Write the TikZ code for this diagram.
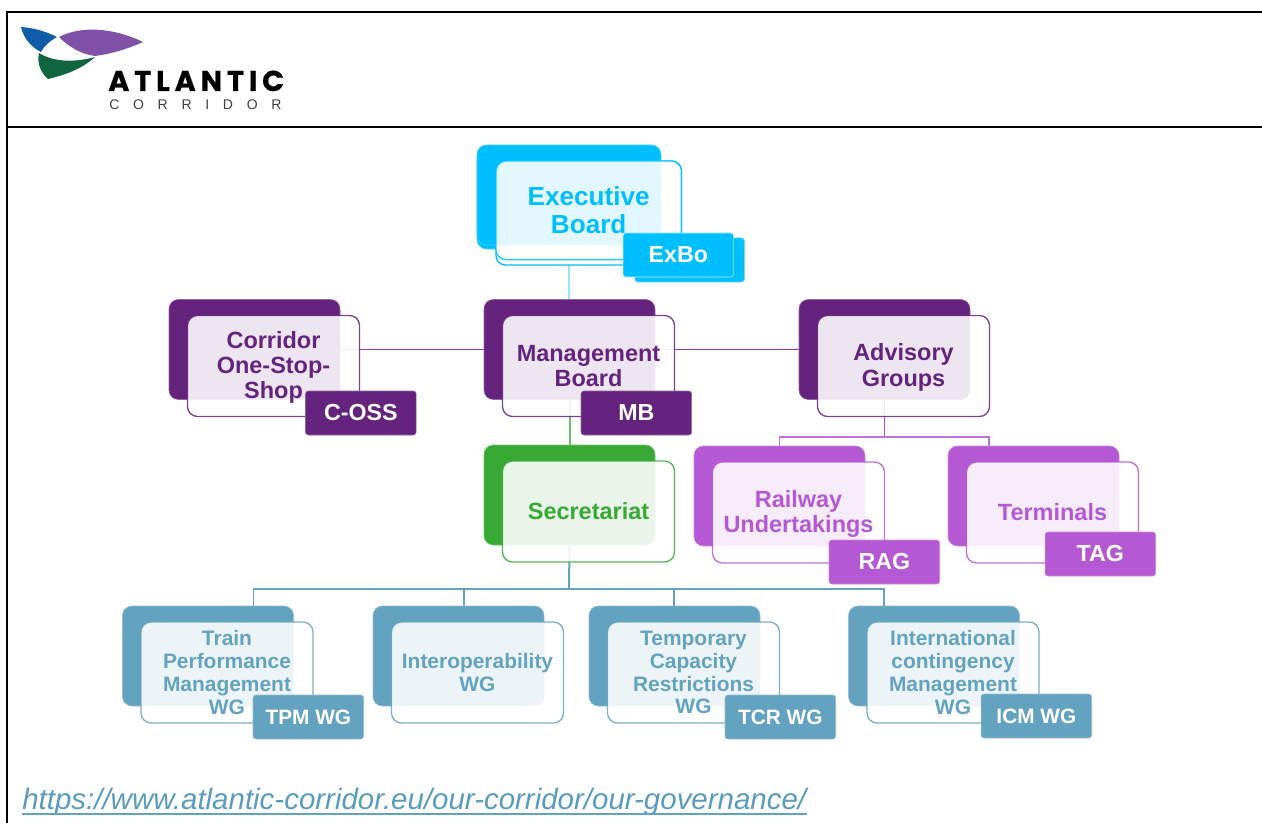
\documentclass[tikz,border=0pt]{standalone}
\usepackage{fontspec}
\setmainfont{Liberation Sans}
\newfontfamily\logofont[LetterSpace=17,FakeBold=0.5]{Poppins}
\newfontfamily\logothin[LetterSpace=98]{Liberation Sans}
\usetikzlibrary{backgrounds}
\definecolor{cExec}{HTML}{00BFFF}
\definecolor{cPurple}{HTML}{64237C}
\definecolor{cGreen}{HTML}{38A935}
\definecolor{cLilac}{HTML}{B459D3}
\definecolor{cBlue}{HTML}{64A3BF}
\definecolor{cLink}{HTML}{5A9CBE}
\definecolor{cLogoBlue}{HTML}{0F5CA8}
\definecolor{cLogoPurple}{HTML}{7F52A8}
\definecolor{cLogoGreen}{HTML}{12663F}
\tikzset{
  backbox/.style={fill=#1,draw=#1!70!white,line width=.4pt,rounded corners=7pt,inner sep=0pt,outer sep=0pt,anchor=north west,minimum width=128.25pt,minimum height=75pt},
  frontbox/.style={fill=white,fill opacity=.89,text opacity=1,draw=#1,draw opacity=.85,line width=1pt,rounded corners=7.5pt,inner sep=0pt,outer sep=0pt,anchor=north west,minimum width=129pt,minimum height=75.75pt,align=center,text=#1,font=\fontsize{17.6}{19}\selectfont\bfseries},
  tagbox/.style={fill=#1,draw=#1!70!white,line width=.4pt,rounded corners=2.2pt,inner sep=0pt,outer sep=0pt,anchor=north west,minimum width=83pt,minimum height=33pt,text=white,font=\fontsize{17.4}{19}\selectfont\bfseries},
  smalltext/.style={font=\fontsize{15.7}{17.1}\selectfont\bfseries},
  smalltag/.style={font=\fontsize{15.6}{17}\selectfont\bfseries},
  bigtext/.style={font=\fontsize{19.6}{21}\selectfont\bfseries},
  frameline/.style={line width=1.5pt,black}
}
\newcommand{\orgunit}[6][]{%
  \node[backbox=#5] (#2back) at (#3,#4) {};
  \node[frontbox=#5,#1] (#2front) at (#3+18.5,#4+16) {#6};
}
\begin{document}
\begin{tikzpicture}[x=.75pt,y=-.75pt]
\useasboundingbox (0,0) rectangle (1262,823);
% frame
\coordinate (frTL) at (7,12);
\coordinate (frTR) at (1262,12);
\coordinate (frML) at (7,127);
\coordinate (frMR) at (1262,127);
\coordinate (frBL) at (7,823);
\draw[frameline] (frTR) -- (frTL) -- (frBL);
\draw[frameline] (frML) -- (frMR);
% logo
\fill[cLogoBlue] (21,27) .. controls (35,28) and (47,32) .. (57,37) .. controls (50,41) and (44,46) .. (41,52) .. controls (33,48) and (24,40) .. (21,27) -- cycle;
\fill[cLogoPurple] (59,37) .. controls (80,26) and (112,27) .. (143,42) .. controls (125,50) and (110,54) .. (95,56) .. controls (80,54) and (68,46) .. (59,37) -- cycle;
\fill[cLogoGreen] (39,53) .. controls (55,63) and (77,62) .. (95,57) .. controls (82,69) and (65,75) .. (48,79) .. controls (40,72) and (37,63) .. (39,53) -- cycle;
\node[anchor=base west,inner sep=0pt] (logoname) at (108,91) {\logofont\bfseries\fontsize{21.5}{20}\selectfont ATLANTIC};
\node[anchor=base west,inner sep=0pt] (logosub) at (109,110) {\logothin\fontsize{10.5}{10}\selectfont\color{black!75}CORRIDOR};
% executive board with its shadow layers
\node[backbox=cExec] (exshadow) at (477,149) {};
\node[backbox=cExec,fill=white,draw=cExec,line width=1pt,minimum width=139pt,minimum height=78pt] (exfrontshadow) at (496,161) {};
\node[backbox=cExec,minimum width=138pt] (exback) at (477,145) {};
\node[frontbox=cExec,bigtext,minimum width=139pt,minimum height=74pt] (exfront) at (496,161) {Executive\\Board};
\node[tagbox=cExec,minimum width=82pt] (extagshadow) at (635,238) {};
\node[tagbox=cExec,draw=white!70!cExec] (extag) at (623,233) {ExBo};
% middle rows
\orgunit{coss}{169}{299.5}{cPurple}{\rule{0pt}{15pt}Corridor\\One-Stop-\\Shop}
\orgunit{mb}{484}{299.5}{cPurple}{Management\\Board}
\orgunit{ag}{799}{299.5}{cPurple}{\rule{0pt}{15pt}Advisory\\Groups}
\node[tagbox=cPurple] (cosstag) at (305.5,391) {C-OSS};
\node[tagbox=cPurple] (mbtag) at (581,391) {MB};
\orgunit{sec}{484}{445}{cGreen}{Secretariat}
\orgunit{rag}{694}{446}{cLilac}{\rule{0pt}{15pt}Railway\\Undertakings}
\orgunit{term}{948}{446}{cLilac}{Terminals}
\node[tagbox=cLilac] (ragtag) at (829,540) {RAG};
\node[tagbox=cLilac] (termtag) at (1045,532) {TAG};
% working groups
\orgunit[smalltext]{tpm}{122.5}{606}{cBlue}{Train\\Performance\\Management\\WG}
\orgunit[smalltext]{iop}{373}{606}{cBlue}{Interoperability\\WG}
\orgunit[smalltext]{tcr}{589}{606}{cBlue}{Temporary\\Capacity\\Restrictions\\WG}
\orgunit[smalltext]{icm}{848.5}{606}{cBlue}{International\\contingency\\Management\\WG}
\node[tagbox=cBlue,smalltag] (tpmtag) at (253,695) {TPM WG};
\node[tagbox=cBlue,smalltag] (tcrtag) at (725,695) {TCR WG};
\node[tagbox=cBlue,smalltag] (icmtag) at (981,694) {ICM WG};
% link
\node[anchor=base west,inner sep=0pt,text=cLink] (url) at (22,809.5) {\fontsize{22.1}{24}\selectfont\itshape https://www.atlantic-corridor.eu/our-corridor/our-governance/};
\coordinate (urlA) at (22,814);
\coordinate (urlB) at (807,814);
\draw[cBlue,line width=1.8pt] (urlA) -- (urlB);
% connectors
\coordinate (exlow) at (569,245);
\coordinate (secjoin) at (569,589);
\coordinate (agjoin) at (884.5,437);
\path (tpmback.north west) ++(131,0) coordinate (tpmin);
\path (iopback.north west) ++(91,0) coordinate (iopin);
\path (tcrback.north west) ++(85,0) coordinate (tcrin);
\path (icmback.north west) ++(35.5,0) coordinate (icmin);
\path (termback.north west) ++(41,0) coordinate (termin);
\begin{scope}[on background layer]
  \draw[cExec!40!white,line width=1.1pt] (exlow) -- (mbback.north -| exlow);
  \draw[cGreen!75!white,line width=1.5pt] (mbback.south) -- (secback.north);
  \draw[cLilac!55!cPurple,line width=1.4pt] (cossback.east) -- (mbback.west);
  \draw[cLilac!55!cPurple,line width=1.4pt] (mbback.east) -- (agback.west);
  \draw[cLilac!80!cPurple,line width=1.1pt] (agback.south) -- (agjoin);
  \draw[cLilac!85!white,line width=1.1pt] (ragback.north) |- (agjoin) (termin) |- (agjoin);
  \draw[cBlue,line width=1.5pt] (secback.south) -- (secjoin);
  \draw[cBlue,line width=1pt] (tpmin) |- (secjoin) (iopin) |- (secjoin) (tcrin) |- (secjoin) (icmin) |- (secjoin);
\end{scope}
\end{tikzpicture}
\end{document}
